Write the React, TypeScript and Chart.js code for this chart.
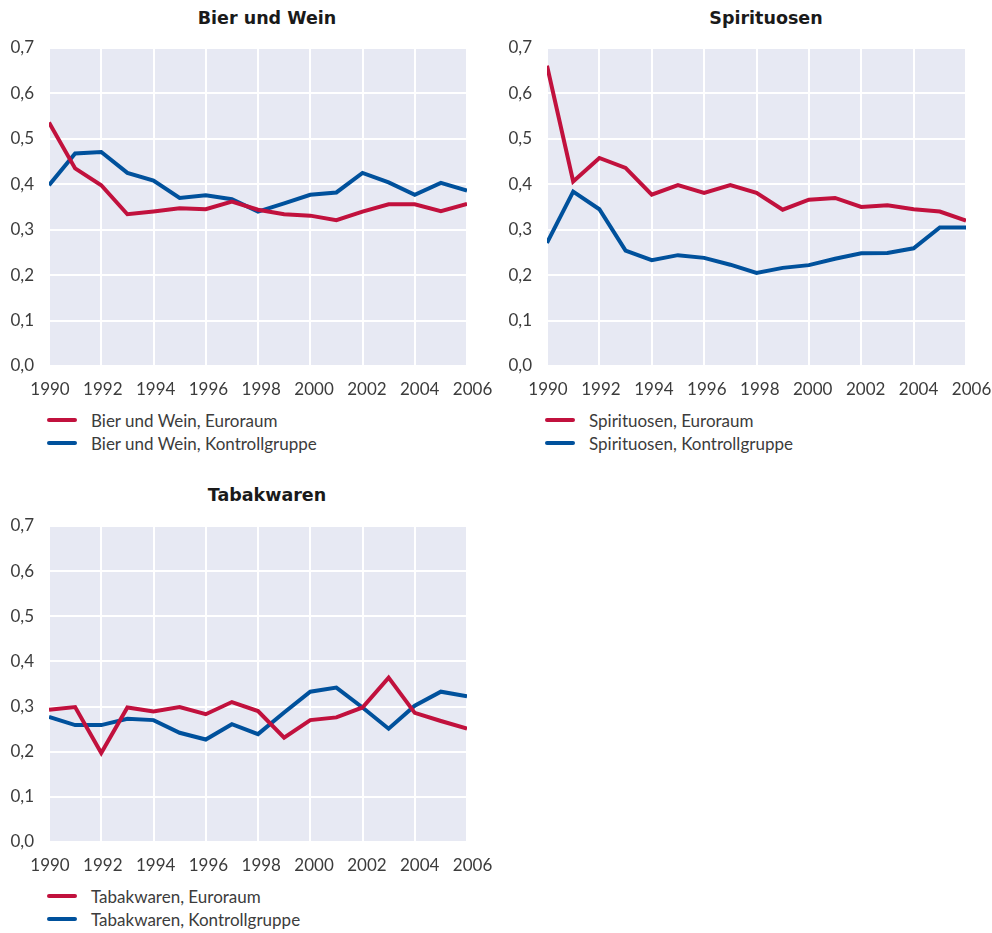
import React, { useEffect, useRef } from "react";
import { Chart, registerables } from "chart.js";

Chart.register(...registerables);

const years = [1990, 1991, 1992, 1993, 1994, 1995, 1996, 1997, 1998, 1999, 2000, 2001, 2002, 2003, 2004, 2005, 2006];
const yearTicks = [1990, 1992, 1994, 1996, 1998, 2000, 2002, 2004, 2006];

const bierEuro = [0.536, 0.435, 0.398, 0.334, 0.34, 0.347, 0.345, 0.362, 0.344, 0.334, 0.331, 0.321, 0.34, 0.356, 0.356, 0.341, 0.357];
const bierKontroll = [0.398, 0.468, 0.471, 0.425, 0.408, 0.37, 0.376, 0.367, 0.34, 0.358, 0.377, 0.382, 0.425, 0.404, 0.377, 0.403, 0.386];

const spirEuro = [0.661, 0.406, 0.458, 0.436, 0.377, 0.398, 0.381, 0.398, 0.381, 0.344, 0.366, 0.37, 0.35, 0.354, 0.345, 0.34, 0.32];
const spirKontroll = [0.271, 0.384, 0.345, 0.254, 0.233, 0.244, 0.238, 0.223, 0.205, 0.216, 0.222, 0.236, 0.248, 0.249, 0.259, 0.305, 0.305];

const tabakEuro = [0.293, 0.299, 0.197, 0.298, 0.289, 0.299, 0.283, 0.31, 0.29, 0.231, 0.27, 0.276, 0.298, 0.364, 0.286, 0.268, 0.251];
const tabakKontroll = [0.277, 0.259, 0.259, 0.273, 0.27, 0.242, 0.227, 0.261, 0.239, 0.287, 0.333, 0.342, 0.298, 0.251, 0.302, 0.333, 0.323];

const RED = "#c1113d";
const BLUE = "#00519c";
const BG = "#e7e9f3";
const TEXT = "#3c3c3c";
const FONT = "Lato, 'Open Sans', sans-serif";
const TITLE_FONT = "'DejaVu Sans', sans-serif";

const bgPlugin = {
  id: "plotBg",
  beforeDraw(chart: any) {
    const { ctx, chartArea } = chart;
    if (!chartArea) return;
    ctx.save();
    ctx.fillStyle = BG;
    ctx.fillRect(chartArea.left, chartArea.top, chartArea.right - chartArea.left, chartArea.bottom - chartArea.top);
    ctx.restore();
  },
};

type PanelProps = {
  title: string;
  titleX: number;
  titleY: number;
  euroLabel: string;
  kontrollLabel: string;
  euro: number[];
  kontroll: number[];
  L: number;
  T: number;
  R: number;
  B: number;
};

const PADL = 48;
const PADT = 20;
const PADR = 30;
const PADB = 40;

function Panel({ title, titleX, titleY, euroLabel, kontrollLabel, euro, kontroll, L, T, R, B }: PanelProps) {
  const ref = useRef<HTMLCanvasElement | null>(null);
  const width = R - L + PADL + PADR;
  const height = B - T + PADT + PADB;

  useEffect(() => {
    if (!ref.current) return;
    const chart = new Chart(ref.current, {
      type: "line",
      data: {
        datasets: [
          {
            label: euroLabel,
            data: years.map((y, i) => ({ x: y, y: euro[i] })),
            borderColor: RED,
            backgroundColor: RED,
            borderWidth: 4,
            pointRadius: 0,
            tension: 0,
          },
          {
            label: kontrollLabel,
            data: years.map((y, i) => ({ x: y, y: kontroll[i] })),
            borderColor: BLUE,
            backgroundColor: BLUE,
            borderWidth: 4,
            pointRadius: 0,
            tension: 0,
          },
        ],
      },
      options: {
        animation: false,
        responsive: false,
        layout: { padding: { left: 0, top: PADT, right: PADR, bottom: 0 } },
        plugins: {
          legend: { display: false },
          title: { display: false },
          tooltip: { enabled: false },
        },
        scales: {
          x: {
            type: "linear",
            position: "bottom",
            min: 1990,
            max: 2006,
            afterFit: (s: any) => {
              s.height = 0;
              s.paddingLeft = 0;
              s.paddingRight = 0;
            },
            ticks: { stepSize: 2, display: false },
            grid: { color: "#ffffff", lineWidth: 2, drawTicks: false },
            border: { display: false },
          },
          xLabels: {
            type: "linear",
            position: "bottom",
            min: 1989.962,
            max: 2005.791,
            afterFit: (s: any) => {
              s.height = PADB;
              s.paddingLeft = 0;
              s.paddingRight = 0;
            },
            afterBuildTicks: (s: any) => {
              s.ticks = yearTicks.map((v) => ({ value: v }));
            },
            ticks: {
              color: TEXT,
              padding: 13,
              maxRotation: 0,
              autoSkip: false,
              font: { family: FONT, size: 17 },
              callback: (v: any) => String(v),
            },
            grid: { display: false, drawTicks: false },
            border: { display: false },
          },
          y: {
            min: 0,
            max: 0.7,
            afterFit: (s: any) => {
              s.width = PADL;
              s.paddingTop = 0;
              s.paddingBottom = 0;
            },
            ticks: {
              stepSize: 0.1,
              color: TEXT,
              padding: 15,
              font: { family: FONT, size: 17 },
              callback: (v: any) => Number(v).toFixed(1).replace(".", ","),
            },
            grid: { color: "#ffffff", lineWidth: 2, drawTicks: false },
            border: { display: false },
          },
        },
      },
      plugins: [bgPlugin],
    } as any);
    return () => chart.destroy();
  }, []);

  const legendItem = (color: string, label: string, y: number) => (
    <div
      style={{
        position: "absolute",
        left: L - 2,
        top: y - 11,
        height: 22,
        display: "flex",
        alignItems: "center",
        whiteSpace: "nowrap",
      }}
    >
      <span
        style={{
          display: "inline-block",
          width: 30,
          height: 4,
          borderRadius: 2,
          background: color,
          marginRight: 14,
        }}
      />
      <span style={{ fontFamily: FONT, fontSize: 17, color: TEXT }}>{label}</span>
    </div>
  );

  return (
    <>
      <div
        style={{
          position: "absolute",
          left: titleX - 200,
          width: 400,
          top: titleY - 10,
          textAlign: "center",
          fontFamily: TITLE_FONT,
          fontWeight: 700,
          fontSize: 17.5,
          color: "#1a1a1a",
          lineHeight: "20px",
          whiteSpace: "nowrap",
        }}
      >
        {title}
      </div>
      <canvas
        ref={ref}
        width={width}
        height={height}
        style={{ position: "absolute", left: L - PADL, top: T - PADT, width, height }}
      />
      {legendItem(RED, euroLabel, B + 54)}
      {legendItem(BLUE, kontrollLabel, B + 77)}
    </>
  );
}

export default function App() {
  return (
    <div style={{ position: "absolute", left: 0, top: 0, width: 992, height: 933, background: "#fff" }}>
      <Panel
        title="Bier und Wein"
        titleX={267}
        titleY={18}
        euroLabel="Bier und Wein, Euroraum"
        kontrollLabel="Bier und Wein, Kontrollgruppe"
        euro={bierEuro}
        kontroll={bierKontroll}
        L={49}
        T={48}
        R={467}
        B={366}
      />
      <Panel
        title="Spirituosen"
        titleX={766}
        titleY={18}
        euroLabel="Spirituosen, Euroraum"
        kontrollLabel="Spirituosen, Kontrollgruppe"
        euro={spirEuro}
        kontroll={spirKontroll}
        L={547}
        T={48}
        R={966}
        B={366}
      />
      <Panel
        title="Tabakwaren"
        titleX={267}
        titleY={495}
        euroLabel="Tabakwaren, Euroraum"
        kontrollLabel="Tabakwaren, Kontrollgruppe"
        euro={tabakEuro}
        kontroll={tabakKontroll}
        L={49}
        T={526}
        R={467}
        B={842}
      />
    </div>
  );
}
